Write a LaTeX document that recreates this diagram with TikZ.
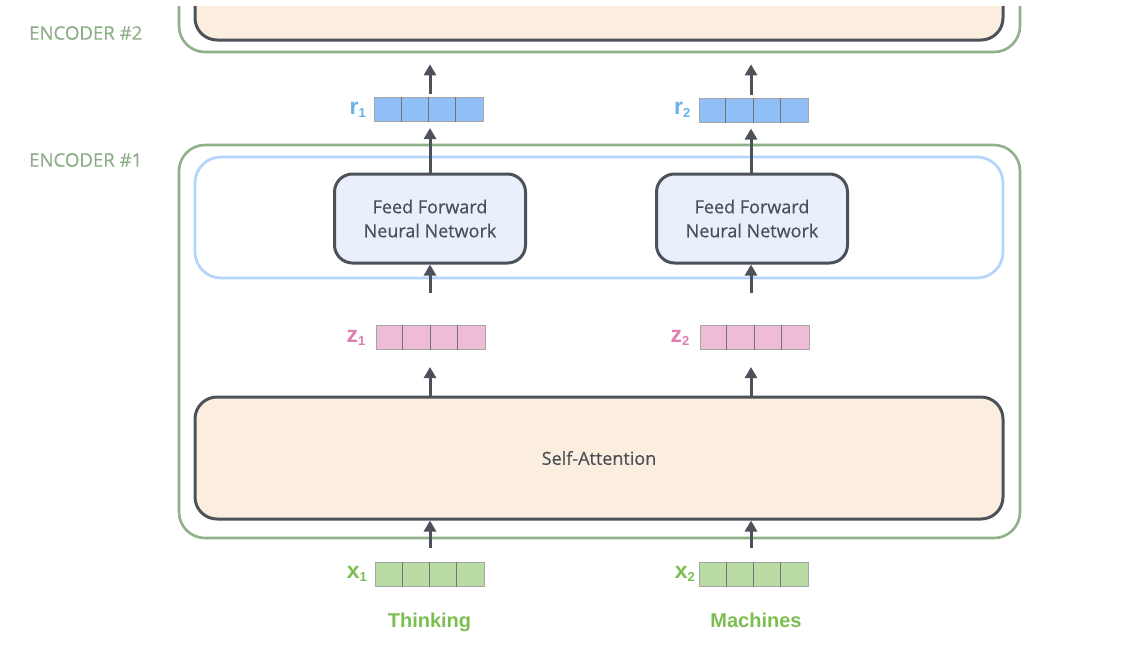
\documentclass[tikz,border=0pt]{standalone}
\usepackage{fontspec}
\setmainfont{Open Sans}
\newfontfamily\semi{Open Sans}[FakeBold=0.45]
\newfontfamily\hv{Liberation Sans}
\usetikzlibrary{arrows.meta}
\definecolor{encgreen}{HTML}{8FB089}
\definecolor{enctext}{HTML}{8DAE88}
\definecolor{darkline}{HTML}{4D525A}
\definecolor{beige}{HTML}{FBEEDF}
\definecolor{lightblue}{HTML}{B5D5FB}
\definecolor{fffill}{HTML}{E9EFFB}
\definecolor{bluevec}{HTML}{8FBFF6}
\definecolor{pinkvec}{HTML}{EFBCD8}
\definecolor{greenvec}{HTML}{B8DCA4}
\definecolor{rcol}{HTML}{67B3E6}
\definecolor{zcol}{HTML}{E07CB0}
\definecolor{xcol}{HTML}{7CBF50}
\definecolor{boxtext}{HTML}{4A4F57}
\newcommand\lab[2]{{\hv\bfseries\fontsize{23}{23}\selectfont #1\raisebox{-3pt}{\fontsize{13}{13}\selectfont #2}}}
\newcommand\vecbox[4]{%
  \node[vecnode, fill=#4] (#1) at (#2,#3) {};
  \foreach \k in {1,2,3} {
    \draw[line width=1pt, draw=gray!90!black] ([xshift=\k*27.25pt]#1.north west) -- ([xshift=\k*27.25pt]#1.south west);
  }
}
\begin{document}
\begin{tikzpicture}[x=1pt,y=-1pt,
  container/.style={draw=encgreen, line width=2.6pt, rounded corners=26pt, inner sep=0pt},
  darkbox/.style={draw=darkline, line width=3pt, rounded corners=22pt, inner sep=0pt, fill=beige},
  ffbox/.style={draw=darkline, line width=3pt, rounded corners=18pt, inner sep=0pt, fill=fffill,
     minimum width=191pt, minimum height=89pt, align=center, text=boxtext,
     font=\semi\fontsize{18}{24}\selectfont},
  layerbox/.style={draw=lightblue, line width=2.8pt, rounded corners=26pt, inner sep=0pt},
  vecnode/.style={draw=gray!70, line width=1pt, minimum width=109pt, minimum height=24pt, inner sep=0pt},
  enclabel/.style={text=enctext, font=\semi\fontsize{18.6}{20}\selectfont, anchor=west, inner sep=0pt},
  word/.style={text=xcol, font=\hv\bfseries\fontsize{20}{20}\selectfont, inner sep=0pt, anchor=base},
  arr/.style={draw=darkline, line width=3pt, -{Triangle[length=11pt,width=12pt]}},
]
\useasboundingbox (0,0) rectangle (1134,654);

% Encoder #2 (cut at top)
\begin{scope}
  \clip (0,6) rectangle (1134,654);
  \node[container, minimum width=841pt, minimum height=152pt] (enc2o) at (599.5,-24) {};
  \node[darkbox, minimum width=808pt, minimum height=140pt] (enc2i) at (599,-30) {};
\end{scope}
\node[enclabel] (enc2l) at (29,33) {ENCODER \#2};
\node[enclabel] (enc1l) at (29,160) {ENCODER \#1};

% Encoder #1
\node[container, minimum width=841pt, minimum height=393pt] (enc1) at (599.5,341.5) {};
\node[layerbox, minimum width=808pt, minimum height=121pt] (ffl) at (599,217.5) {};
\node[darkbox, minimum width=808pt, minimum height=122pt, text=boxtext,
      font=\semi\fontsize{18}{24}\selectfont] (sa) at (599,458) {Self-Attention};

\node[ffbox] (ff1) at (430,218.5) {Feed Forward\\Neural Network};
\node[ffbox] (ff2) at (752,218.5) {Feed Forward\\Neural Network};

% vectors
\vecbox{r1}{429}{109.5}{bluevec}
\vecbox{r2}{753.5}{110}{bluevec}
\vecbox{z1}{430.5}{337.5}{pinkvec}
\vecbox{z2}{754.5}{337.5}{pinkvec}
\vecbox{x1}{430}{574}{greenvec}
\vecbox{x2}{754}{574}{greenvec}

% vector labels
\node[anchor=east, inner sep=0pt, text=rcol] (r1l) at ([xshift=-8pt]r1.west) {\lab{r}{1}};
\node[anchor=east, inner sep=0pt, text=rcol] (r2l) at ([xshift=-8pt]r2.west) {\lab{r}{2}};
\node[anchor=east, inner sep=0pt, text=zcol] (z1l) at ([xshift=-10pt]z1.west) {\lab{z}{1}};
\node[anchor=east, inner sep=0pt, text=zcol] (z2l) at ([xshift=-10pt]z2.west) {\lab{z}{2}};
\node[anchor=east, inner sep=0pt, text=xcol] (x1l) at ([xshift=-8pt]x1.west) {\lab{x}{1}};
\node[anchor=east, inner sep=0pt, text=xcol] (x2l) at ([xshift=-4pt]x2.west) {\lab{x}{2}};

% words
\node[word] (w1) at (429.5,627) {Thinking};
\node[word] (w2) at (756,627) {Machines};

% arrows
\coordinate (c1) at (430,0);
\coordinate (c2) at (751,0);
\foreach \c/\r/\z/\x/\f in {c1/r1/z1/x1/ff1, c2/r2/z2/x2/ff2} {
  \draw[arr] ([yshift=3pt]\c |- \r.north) -- ([yshift=-11pt]\c |- enc2o.south);
  \draw[arr] (\c |- \f.north) -- ([yshift=-6pt]\c |- \r.south);
  \draw[arr] ([yshift=32pt]\c |- \z.north) -- (\c |- \f.south);
  \draw[arr] (\c |- sa.north) -- ([yshift=-17pt]\c |- \z.south);
  \draw[arr] ([yshift=14pt]\c |- \x.north) -- (\c |- sa.south);
}
\end{tikzpicture}
\end{document}
